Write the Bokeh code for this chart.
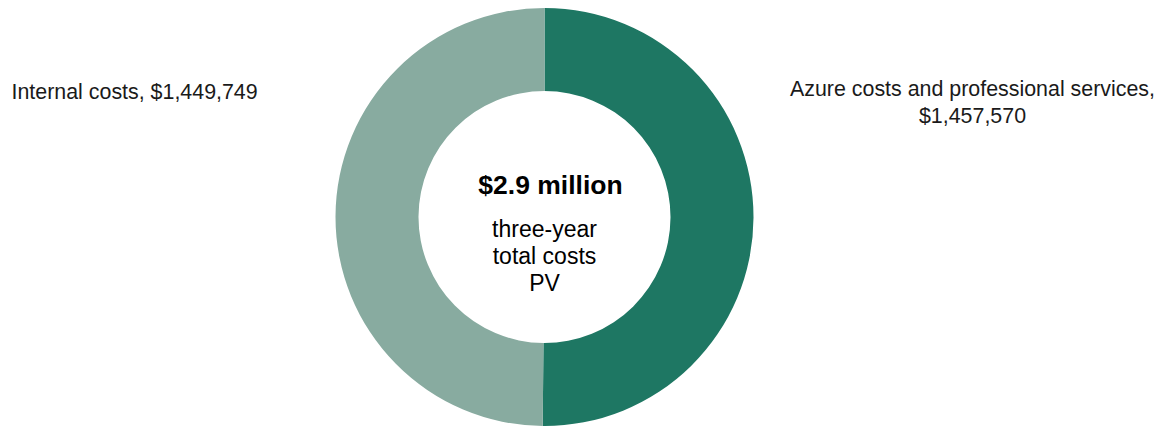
import numpy as np
from bokeh.plotting import figure
from bokeh.models import Range1d, ColumnDataSource
from bokeh.core.properties import value
from bokeh.embed import file_html
from bokeh.resources import INLINE

categories = ["Azure costs and professional services", "Internal costs"]
amounts = [1457570, 1449749]
colors = ["#1E7763", "#88ABA0"]
center_title = "$2.9 million"
center_lines = ["three-year", "total costs", "PV"]

W, H = 1161, 427
p = figure(width=W, height=H, output_backend="svg", toolbar_location=None,
           x_range=Range1d(0, W), y_range=Range1d(0, H), min_border=0)
p.axis.visible = False
p.grid.visible = False
p.outline_line_color = None
p.background_fill_color = "white"
p.border_fill_color = "white"

total = sum(amounts)
fracs = np.array(amounts) / total
ends = np.pi / 2 - 2 * np.pi * np.cumsum(fracs)
starts = np.concatenate([[np.pi / 2], ends[:-1]])
cx, cy = 544, H - 216.5
src = ColumnDataSource(dict(start=starts, end=ends, color=colors))
p.annular_wedge(x=cx, y=cy, inner_radius=126, outer_radius=209,
                inner_radius_units="screen", outer_radius_units="screen",
                start_angle="start", end_angle="end", direction="clock",
                fill_color="color", line_color=None, source=src)

font = value("Liberation Sans")

def fmt(v):
    return "${:,}".format(v)

# left label (Internal costs)
p.text(x=[11], y=[H - 91], text=[f"{categories[1]}, {fmt(amounts[1])}"],
       text_font=font, text_font_size="21.4px", text_align="left",
       text_baseline="middle", text_color="#1a1a1a")
# right label (Azure)
p.text(x=[972, 972], y=[H - 88, H - 115],
       text=[f"{categories[0]},", fmt(amounts[0])],
       text_font=font, text_font_size="21.4px", text_align="center",
       text_baseline="middle", text_color="#1a1a1a")
# center
p.text(x=[550], y=[H - 184], text=[center_title], text_font=font,
       text_font_size="26.5px", text_font_style="bold", text_align="center",
       text_baseline="middle", text_color="black")
p.text(x=[cx] * 3, y=[H - 228, H - 255, H - 282], text=center_lines,
       text_font=font, text_font_size="23px", text_align="center",
       text_baseline="middle", text_color="black")

open("out.html", "w").write(file_html(p, INLINE))
